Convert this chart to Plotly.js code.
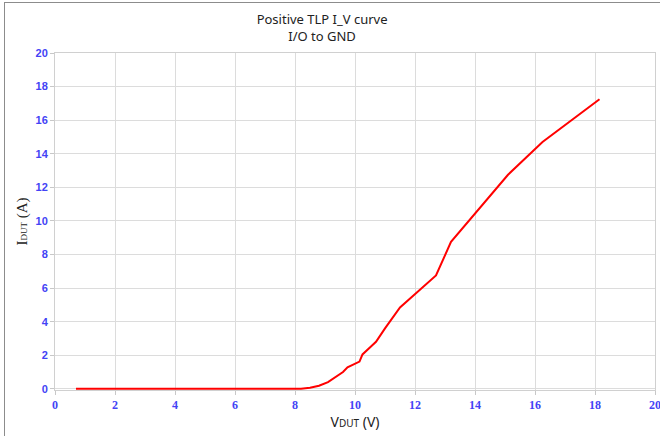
<!DOCTYPE html>
<html>
<head>
<meta charset="utf-8">
<script src="https://cdn.plot.ly/plotly-3.0.1.min.js"></script>
<style>
html,body{margin:0;padding:0;background:#fff;}
#frame{position:absolute;left:4px;top:2px;width:660px;height:440px;border-left:1px solid #8c8c8c;border-top:1px solid #8c8c8c;pointer-events:none;z-index:10;}
#chart{position:absolute;left:0;top:0;width:660px;height:436px;}
</style>
</head>
<body>
<div id="chart"></div>
<div id="frame"></div>
<script>
const vdut = [0.7, 8.2, 8.5, 8.8, 9.1, 9.35, 9.6, 9.75, 10.0, 10.15, 10.25, 10.4, 10.55, 10.7, 11.0, 11.5, 12.7, 13.2, 15.1, 16.25, 18.15];
const idut = [0, 0, 0.06, 0.18, 0.4, 0.72, 1.0, 1.28, 1.48, 1.62, 2.05, 2.28, 2.55, 2.8, 3.6, 4.85, 6.75, 8.75, 12.75, 14.7, 17.25];
const tickVals = [0, 2, 4, 6, 8, 10, 12, 14, 16, 18, 20];

const trace = {
  x: vdut, y: idut, type: 'scatter', mode: 'lines',
  line: {color: '#ff0000', width: 2},
  cliponaxis: false,
  hoverinfo: 'none'
};

const layout = {
  width: 660, height: 436,
  margin: {l: 55, r: 5, t: 53, b: 46},
  paper_bgcolor: '#ffffff', plot_bgcolor: '#ffffff',
  showlegend: false,
  title: {
    text: 'Positive TLP I_V curve<br>I/O to GND',
    font: {family: 'Noto Sans, Open Sans, sans-serif', size: 13, color: '#222222'},
    x: 0.488, xanchor: 'center', y: 0.945, yanchor: 'middle'
  },
  xaxis: {
    range: [0, 20], tickvals: tickVals, ticktext: tickVals.map(v => '<b>' + v + '</b>'),
    showgrid: true, gridcolor: '#dcdcdc', gridwidth: 1,
    zeroline: false, showline: true, linecolor: '#d0d0d0', mirror: true,
    layer: 'below traces', ticklabeloverflow: 'allow',
    ticks: 'outside', ticklen: 4, tickcolor: '#c8c8c8',
    tickfont: {family: 'Liberation Serif, serif', size: 12, color: '#4343f5'},
    title: {
      text: 'V<span style="font-size:10px">DUT</span> (V)',
      font: {family: 'Noto Sans, Open Sans, sans-serif', size: 14, color: '#222222'},
      standoff: 2
    }
  },
  yaxis: {
    range: [-0.07, 20], tickvals: tickVals, ticktext: tickVals.map(v => '<b>' + v + '</b>'),
    showgrid: true, gridcolor: '#dcdcdc', gridwidth: 1,
    zeroline: false, showline: true, linecolor: '#d0d0d0', mirror: true,
    layer: 'below traces', ticklabeloverflow: 'allow',
    ticks: 'outside', ticklen: 4, tickcolor: '#c8c8c8',
    tickfont: {family: 'Liberation Sans, Arial, sans-serif', size: 11, color: '#4343f5'},
    title: {
      text: 'I<span style="font-size:9px">DUT</span> (A)',
      font: {family: 'Liberation Serif, Times New Roman, serif', size: 15, color: '#222222'},
      standoff: 4
    }
  },
  annotations: [{
    xref: 'paper', yref: 'paper', x: -0.06, y: 0.575,
    text: '.', showarrow: false,
    font: {family: 'Liberation Serif, serif', size: 12, color: '#333333'}
  }]
};

Plotly.newPlot('chart', [trace], layout, {staticPlot: true, displayModeBar: false});
</script>
</body>
</html>
